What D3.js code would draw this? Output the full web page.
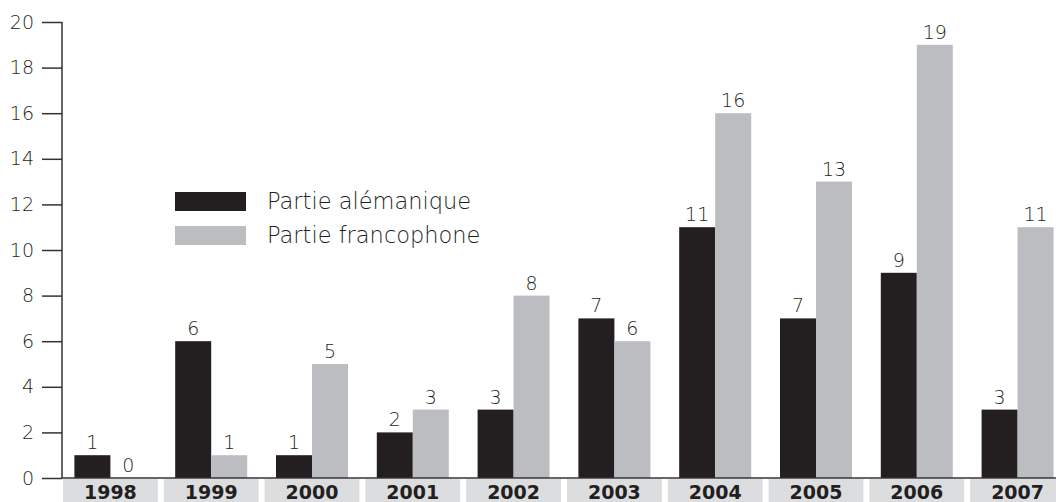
<!DOCTYPE html>
<html>
<head>
<meta charset="utf-8">
<script src="https://cdn.jsdelivr.net/npm/d3@7"></script>
<style>
  body { margin: 0; background: #fff; }
  svg text { font-family: "DejaVu Sans", sans-serif; }
</style>
</head>
<body>
<div id="chart"></div>
<script>
"use strict";

var years = ["1998", "1999", "2000", "2001", "2002", "2003", "2004", "2005", "2006", "2007"];
var alemanique = [1, 6, 1, 2, 3, 7, 11, 7, 9, 3];
var francophone = [0, 1, 5, 3, 8, 6, 16, 13, 19, 11];
var seriesNames = ["Partie alémanique", "Partie francophone"];
var yTicks = [0, 2, 4, 6, 8, 10, 12, 14, 16, 18, 20];

var width = 1056, height = 502;
var colors = ["#231f20", "#bcbdc0"];

var svg = d3.select("#chart").append("svg")
  .attr("width", width)
  .attr("height", height);

var x0 = d3.scaleBand().domain(years).range([60, 1068]);
var x1 = d3.scaleBand().domain([0, 1]).range([0, 72]);
var y = d3.scaleLinear().domain([0, 20]).range([478, 22]);

// year boxes under the axis
svg.selectAll(".yearbox").data(years)
  .enter()
  .append("rect")
  .attr("x", d => x0(d) + 3)
  .attr("y", 479)
  .attr("width", x0.bandwidth() - 6)
  .attr("height", 24)
  .attr("fill", "#dcdddf");

svg.selectAll(".yearlabel").data(years)
  .enter()
  .append("text")
  .attr("x", d => x0(d) + x0.bandwidth() / 2)
  .attr("y", 499)
  .attr("text-anchor", "middle")
  .style("font-weight", "bold")
  .style("font-size", "19px")
  .attr("fill", "#231f20")
  .text(d => d);

// bars
var rows = years.map((yr, i) => ({year: yr, vals: [alemanique[i], francophone[i]]}));
var groups = svg.selectAll(".grp").data(rows)
  .enter()
  .append("g")
  .attr("transform", d => "translate(" + (x0(d.year) + x0.bandwidth() / 2 - 36) + ",0)");

groups.selectAll("rect").data(d => d.vals.map((v, k) => ({k: k, v: v})))
  .enter()
  .append("rect")
  .attr("x", d => x1(d.k))
  .attr("y", d => y(d.v))
  .attr("width", x1.bandwidth())
  .attr("height", d => y(0) - y(d.v))
  .attr("fill", d => colors[d.k]);

groups.selectAll("text").data(d => d.vals.map((v, k) => ({k: k, v: v})))
  .enter()
  .append("text")
  .attr("x", d => x1(d.k) + x1.bandwidth() / 2)
  .attr("y", d => y(d.v) - 6)
  .attr("text-anchor", "middle")
  .style("font-size", "19px")
  .style("font-weight", 200)
  .attr("fill", "#231f20")
  .text(d => d.v);

// y axis
var yAxis = svg.append("g")
  .attr("transform", "translate(62,0)")
  .call(d3.axisLeft(y).tickValues(yTicks).tickSize(20).tickPadding(8));
yAxis.select(".domain").attr("stroke", "#333").attr("stroke-width", 1.5)
  .attr("d", "M0," + y(20) + "V" + y(0));
yAxis.selectAll(".tick line").attr("stroke", "#333").attr("stroke-width", 1.5);
yAxis.selectAll(".tick text")
  .style("font-family", "'DejaVu Sans', sans-serif")
  .style("font-size", "19px")
  .style("font-weight", 200)
  .attr("fill", "#231f20");

// baseline
svg.append("line")
  .attr("x1", 62).attr("x2", width)
  .attr("y1", y(0)).attr("y2", y(0))
  .attr("stroke", "#333").attr("stroke-width", 1.5);

// legend
var legend = svg.selectAll(".legend").data(seriesNames)
  .enter()
  .append("g")
  .attr("transform", (d, i) => "translate(175," + (192 + i * 34) + ")");
legend.append("rect")
  .attr("width", 71).attr("height", 19)
  .attr("fill", (d, i) => colors[i]);
legend.append("text")
  .attr("x", 92).attr("y", 17)
  .style("font-size", "22.5px")
  .style("font-weight", 200)
  .attr("fill", "#231f20")
  .text(d => d);
</script>
</body>
</html>
